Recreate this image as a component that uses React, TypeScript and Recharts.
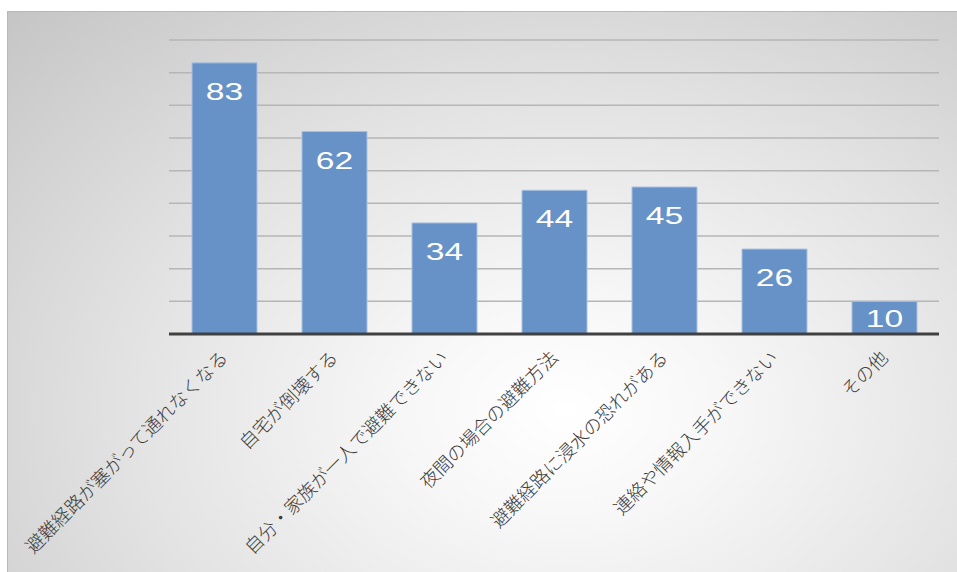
import React from 'react';
import { BarChart, Bar, XAxis, YAxis, CartesianGrid, LabelList } from 'recharts';

const categories = [
  '避難経路が塞がって通れなくなる',
  '自宅が倒壊する',
  '自分・家族が一人で避難できない',
  '夜間の場合の避難方法',
  '避難経路に浸水の恐れがある',
  '連絡や情報入手ができない',
  'その他',
];
const values = [83, 62, 34, 44, 45, 26, 10];
const yTicks = [0, 10, 20, 30, 40, 50, 60, 70, 80, 90];

const data = categories.map((name, i) => ({ name, value: values[i] }));

const Tick = (props: any) => {
  const { x, y, payload } = props;
  const tx = x + 5;
  const ty = y + 25;
  return (
    <text
      x={tx}
      y={ty}
      transform={`rotate(-45, ${tx}, ${ty})`}
      textAnchor="end"
      fontSize={18.5}
      fontWeight={300}
      fill="#3a3a3a"
      fontFamily="'Noto Sans CJK JP', sans-serif"
    >
      {payload.value}
    </text>
  );
};

const BarLabel = (props: any) => {
  const { x, y, width, height, value } = props;
  const cx = x + width / 2;
  const cy = Math.min(y + 29, y + height / 2 + 1);
  return (
    <text
      transform={`translate(${cx}, ${cy}) scale(1.4, 1)`}
      textAnchor="middle"
      dominantBaseline="central"
      fontSize={24}
      fill="#ffffff"
      fontFamily="'Liberation Sans', Arial, sans-serif"
    >
      {value}
    </text>
  );
};

export default function App() {
  return (
    <div style={{ position: 'fixed', left: 0, top: 0, width: 957, height: 572, overflow: 'hidden', background: '#fff' }}>
      <div
        style={{
          position: 'absolute',
          left: 7,
          top: 11,
          width: 960,
          height: 570,
          boxSizing: 'border-box',
          borderTop: '1.5px solid #b8b8b8',
          borderLeft: '1.5px solid #b8b8b8',
          background: 'radial-gradient(ellipse farthest-corner at 58% 70%, #ffffff 0%, #f7f7f7 20%, #e3e3e3 55%, #c5c5c5 100%)',
        }}
      />
      <div style={{ position: 'absolute', left: 0, top: 0 }}>
        <BarChart
          width={957}
          height={572}
          data={data}
          margin={{ top: 40, right: 18, bottom: 8, left: 169 }}
        >
          <CartesianGrid vertical={false} stroke="#b6b6b6" strokeWidth={1.5} />
          <YAxis hide domain={[0, 90]} ticks={yTicks} />
          <XAxis
            dataKey="name"
            height={230}
            interval={0}
            tickLine={false}
            tickSize={0}
            tickMargin={0}
            axisLine={{ stroke: '#404040', strokeWidth: 3 }}
            tick={<Tick />}
          />
          <Bar dataKey="value" fill="#6692c7" stroke="#a8c1e1" strokeWidth={1} barSize={65} isAnimationActive={false}>
            <LabelList dataKey="value" content={<BarLabel />} />
          </Bar>
        </BarChart>
      </div>
    </div>
  );
}
